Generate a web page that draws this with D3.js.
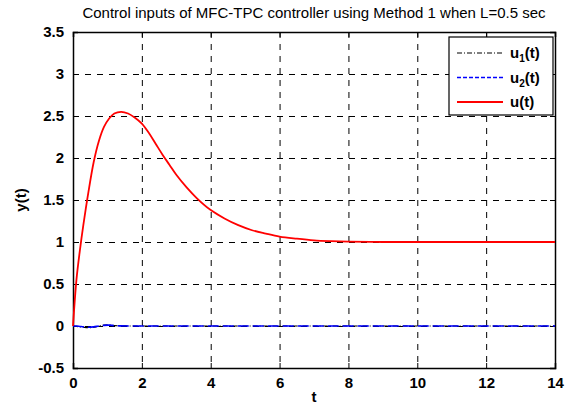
<!DOCTYPE html>
<html>
<head>
<meta charset="utf-8">
<script src="https://cdn.jsdelivr.net/npm/d3@7"></script>
<style>
  body { margin: 0; background: #fff; }
  svg { font-family: "Liberation Sans", Arial, sans-serif; }
</style>
</head>
<body>
<div id="graph"></div>
<script>
//chart values
var time = [0, 0.1, 0.2, 0.3, 0.45, 0.6, 0.75, 0.9, 1.05, 1.2, 1.4, 1.6, 1.8, 2.0, 2.2, 2.4, 2.6, 2.8, 3.0, 3.3, 3.6, 4.0, 4.4, 4.8, 5.2, 5.6, 6.0, 6.5, 7, 7.5, 8, 9, 10, 11, 12, 13, 14];
var uTotal = [0, 0.55, 0.9, 1.2, 1.6, 1.95, 2.2, 2.37, 2.47, 2.53, 2.55, 2.53, 2.48, 2.41, 2.30, 2.17, 2.04, 1.92, 1.80, 1.65, 1.52, 1.38, 1.28, 1.20, 1.14, 1.10, 1.065, 1.04, 1.02, 1.01, 1.004, 1, 1, 1, 1, 1, 1];
var u1 = [0, -0.005, -0.01, -0.015, -0.02, -0.015, 0, 0.01, 0.012, 0.005, 0.002, 0, 0, 0, 0, 0, 0, 0, 0, 0, 0, 0, 0, 0, 0, 0, 0, 0, 0, 0, 0, 0, 0, 0, 0, 0, 0];
var u2 = [0, 0, -0.005, -0.01, -0.015, -0.01, 0, 0.008, 0.01, 0.004, 0.001, 0, 0, 0, 0, 0, 0, 0, 0, 0, 0, 0, 0, 0, 0, 0, 0, 0, 0, 0, 0, 0, 0, 0, 0, 0, 0];
var xTicks = [0, 2, 4, 6, 8, 10, 12, 14];
var yTicks = [-0.5, 0, 0.5, 1, 1.5, 2, 2.5, 3, 3.5];
var legendNames = ["u1", "u2", "u"];

var width = 569, height = 405;
var margin = {left: 73, right: 14, top: 32, bottom: 37};

const svg = d3.select("#graph").append("svg")
    .attr("width", width)
    .attr("height", height);

const x = d3.scaleLinear().domain([0, 14]).range([margin.left, width - margin.right]);
const y = d3.scaleLinear().domain([-0.5, 3.5]).range([height - margin.bottom, margin.top]);

//grid
const grid = svg.append("g")
    .attr("stroke", "#000")
    .attr("stroke-width", 1)
    .attr("stroke-dasharray", "6,6");
grid.selectAll(".gx").data(xTicks.slice(1, -1)).enter().append("line")
    .attr("x1", d => x(d) + 0.5).attr("x2", d => x(d) + 0.5)
    .attr("y1", y(3.5)).attr("y2", y(-0.5));
grid.selectAll(".gy").data(yTicks.slice(1, -1)).enter().append("line")
    .attr("x1", x(0)).attr("x2", x(14))
    .attr("y1", d => y(d) + 0.5).attr("y2", d => y(d) + 0.5);

//axes with inside ticks
const axisB = d3.axisBottom(x).tickValues(xTicks).tickSize(-5).tickPadding(9).tickFormat(d3.format("d"));
const axisL = d3.axisLeft(y).tickValues(yTicks).tickSize(-5).tickPadding(9).tickFormat(d => d);
const gx = svg.append("g").attr("transform", "translate(0," + y(-0.5) + ")").call(axisB);
const gy = svg.append("g").attr("transform", "translate(" + x(0) + ",0)").call(axisL);
svg.append("g").attr("transform", "translate(0," + y(3.5) + ")")
    .call(d3.axisTop(x).tickValues(xTicks).tickSize(-5).tickFormat(""));
svg.append("g").attr("transform", "translate(" + x(14) + ",0)")
    .call(d3.axisRight(y).tickValues(yTicks).tickSize(-5).tickFormat(""));
svg.selectAll(".domain").attr("stroke-width", 1.5);
svg.selectAll(".tick text")
    .attr("font-size", 15).attr("font-weight", "bold").attr("fill", "#000")
    .attr("font-family", "Liberation Sans, Arial, sans-serif");

//lines
const line = d3.line().curve(d3.curveCatmullRom)
    .x(function(d){ return x(d[0]); })
    .y(function(d){ return y(d[1]); });
const pts = function(vals){ return time.map(function(t, i){ return [t, vals[i]]; }); };

svg.append("path").attr("d", line(pts(u1)))
    .attr("fill", "none").attr("stroke", "#000").attr("stroke-width", 1.2)
    .attr("stroke-dasharray", "5,2,1,2");
svg.append("path").attr("d", line(pts(u2)))
    .attr("fill", "none").attr("stroke", "#0000ff").attr("stroke-width", 1.6)
    .attr("stroke-dasharray", "11,4");
svg.append("path").attr("d", line(pts(uTotal)))
    .attr("fill", "none").attr("stroke", "#ff0000").attr("stroke-width", 1.8);

//title and labels
svg.append("text").attr("x", (x(0) + x(14)) / 2).attr("y", 18)
    .attr("text-anchor", "middle").attr("font-size", 15)
    .text("Control inputs of MFC-TPC controller using Method 1 when L=0.5 sec");
svg.append("text").attr("x", (x(0) + x(14)) / 2).attr("y", 402)
    .attr("text-anchor", "middle").attr("font-size", 15).attr("font-weight", "bold")
    .text("t");
svg.append("text").attr("transform", "translate(26," + y(1.5) + ") rotate(-90)")
    .attr("text-anchor", "middle").attr("font-size", 15).attr("font-weight", "bold")
    .text("y(t)");

//legend
const legend = svg.append("g").attr("transform", "translate(449,37)");
legend.append("rect").attr("width", 104).attr("height", 78)
    .attr("fill", "#fff").attr("stroke", "#000").attr("stroke-width", 1.2);
const styles = [
    {color: "#000", dash: "5,2,1,2", w: 1.2},
    {color: "#0000ff", dash: "4,2", w: 1.4},
    {color: "#ff0000", dash: null, w: 1.8}
];
legendNames.forEach(function(name, i){
    const yy = 16 + i * 24.5;
    legend.append("line").attr("x1", 8).attr("x2", 54).attr("y1", yy).attr("y2", yy)
        .attr("stroke", styles[i].color).attr("stroke-width", styles[i].w)
        .attr("stroke-dasharray", styles[i].dash);
    const txt = legend.append("text").attr("x", 61).attr("y", yy + 5)
        .attr("font-size", 15).attr("font-weight", "bold");
    if (name === "u") {
        txt.text("u(t)");
    } else {
        txt.append("tspan").text("u");
        txt.append("tspan").attr("font-size", 10).attr("dy", 4).text(name.slice(1));
        txt.append("tspan").attr("dy", -4).text("(t)");
    }
});
</script>
</body>
</html>
